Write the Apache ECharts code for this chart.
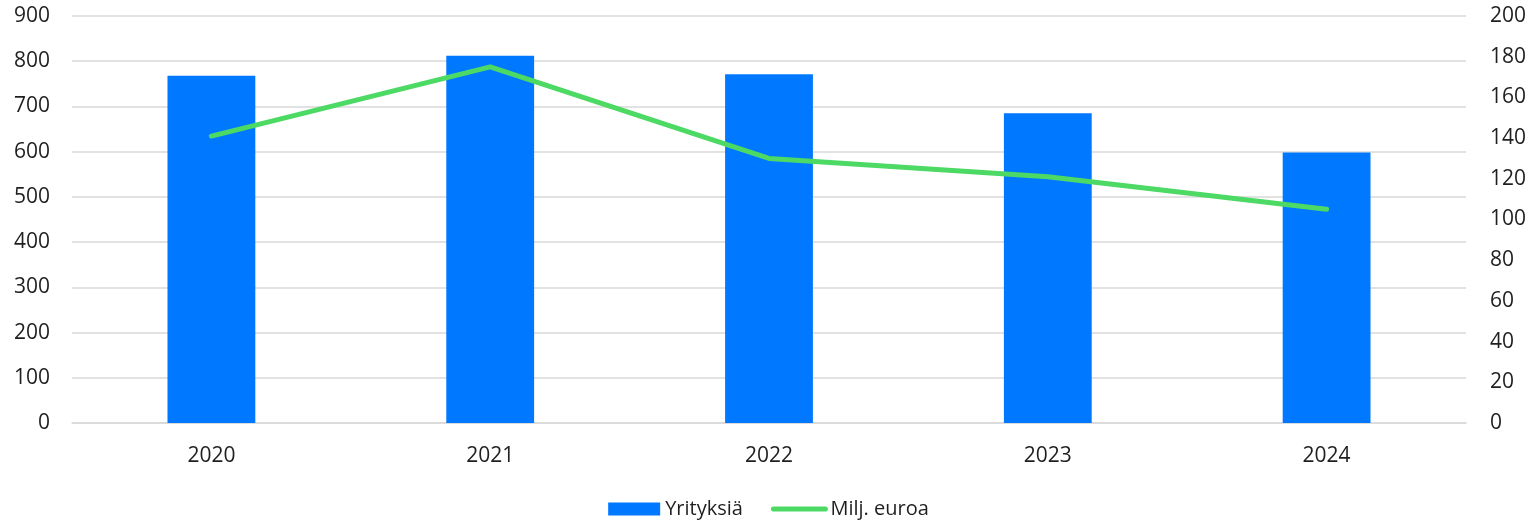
<!DOCTYPE html>
<html>
<head>
<meta charset="utf-8">
<script src="https://cdn.jsdelivr.net/npm/echarts@6/dist/echarts.min.js"></script>
<style>
html,body{margin:0;padding:0;background:#fff;}
#c{width:1537px;height:521px;}
</style>
</head>
<body>
<div id="c"></div>
<script>
const categories = ['2020', '2021', '2022', '2023', '2024'];
const yritykset = [768, 812, 771, 685, 598];
const miljEuroa = [141, 175, 130, 121, 105];
const leftTicks = { min: 0, max: 900, interval: 100 };
const rightTicks = { min: 0, max: 200, interval: 20 };

const font = '"Open Sans", Lato, sans-serif';
const chart = echarts.init(document.getElementById('c'), null, { renderer: 'canvas' });
chart.setOption({
  animation: false,
  textStyle: { fontFamily: font },
  grid: { left: 72, right: 71, top: 16, bottom: 98, containLabel: false },
  legend: {
    top: 494,
    left: 'center',
    itemGap: 28,
    itemWidth: 52,
    itemHeight: 13,
    textStyle: { fontSize: 20, color: '#1f1f1f', fontFamily: font },
    data: [
      { name: 'Yrityksiä', icon: 'rect' },
      { name: 'Milj. euroa', itemStyle: { opacity: 0 }, lineStyle: { width: 5, cap: 'round', color: '#4cd964' } }
    ]
  },
  xAxis: {
    type: 'category',
    data: categories,
    axisLine: { show: true, lineStyle: { color: '#d9d9d9', width: 1.5 } },
    axisTick: { show: false },
    axisLabel: { fontSize: 21, color: '#1f1f1f', margin: 23, fontFamily: font }
  },
  yAxis: [
    {
      type: 'value',
      min: leftTicks.min, max: leftTicks.max, interval: leftTicks.interval,
      axisLine: { show: false }, axisTick: { show: false },
      splitLine: { lineStyle: { color: '#d9d9d9', width: 1.5 } },
      axisLabel: { fontSize: 21, color: '#1f1f1f', margin: 22, fontFamily: font }
    },
    {
      type: 'value',
      min: rightTicks.min, max: rightTicks.max, interval: rightTicks.interval,
      axisLine: { show: false }, axisTick: { show: false },
      splitLine: { show: false },
      axisLabel: { fontSize: 21, color: '#1f1f1f', margin: 24, fontFamily: font }
    }
  ],
  series: [
    {
      name: 'Yrityksiä',
      type: 'bar',
      data: yritykset,
      barWidth: '31.5%',
      itemStyle: { color: '#0078ff' },
      yAxisIndex: 0
    },
    {
      name: 'Milj. euroa',
      type: 'line',
      data: miljEuroa,
      yAxisIndex: 1,
      symbol: 'none',
      lineStyle: { color: '#4cd964', width: 5, cap: 'round', join: 'round' },
      itemStyle: { color: '#4cd964' }
    }
  ]
});
</script>
</body>
</html>
